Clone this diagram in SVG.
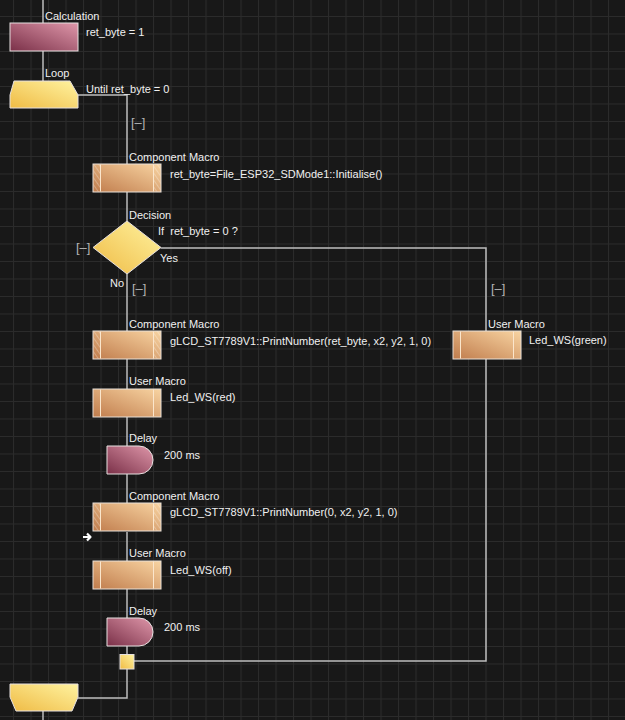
<svg xmlns="http://www.w3.org/2000/svg" width="625" height="720" viewBox="0 0 625 720">
<defs>
<pattern id="grid" width="17.5" height="17.5" patternUnits="userSpaceOnUse" x="13" y="16">
<path d="M0,0 H17.5 M0,0 V17.5" stroke="#2b2b2b" stroke-width="2" fill="none"/>
</pattern>
<linearGradient id="gPink" x1="0" y1="1" x2="1" y2="0">
<stop offset="0" stop-color="#7a3048"/>
<stop offset="1" stop-color="#df97aa"/>
</linearGradient>
<linearGradient id="gYel" x1="0" y1="1" x2="1" y2="0">
<stop offset="0" stop-color="#efbb45"/>
<stop offset="1" stop-color="#fff3a0"/>
</linearGradient>
<linearGradient id="gOr" x1="0" y1="1" x2="1" y2="0">
<stop offset="0" stop-color="#c07c4c"/>
<stop offset="1" stop-color="#f8d4a2"/>
</linearGradient>
<pattern id="hatch" width="4" height="4" patternUnits="userSpaceOnUse" patternTransform="rotate(-35)">
<rect width="4" height="4" fill="none"/>
<line x1="0" y1="0" x2="0" y2="4" stroke="#ffffff" stroke-opacity="0.45" stroke-width="1.2"/>
</pattern>
<g id="cm">
<rect x="0" y="0" width="68" height="28" fill="url(#gOr)" stroke="#e8e0d8" stroke-width="1"/>
<rect x="0.5" y="0.5" width="7" height="27" fill="url(#hatch)"/>
<rect x="60.5" y="0.5" width="7" height="27" fill="url(#hatch)"/>
<path d="M7.5,0.5 V27.5 M60.5,0.5 V27.5" stroke="#fbe6cc" stroke-width="1"/>
</g>
<g id="um">
<rect x="0" y="0" width="68" height="28" fill="url(#gOr)" stroke="#e8e0d8" stroke-width="1"/>
<path d="M7.5,0.5 V27.5 M60.5,0.5 V27.5" stroke="#fbe6cc" stroke-width="1"/>
</g>
</defs>
<style>
.t{font-family:"Liberation Sans",Arial,sans-serif;font-size:11px;fill:#f0f0f0;white-space:pre}
.b{font-family:"Liberation Sans",Arial,sans-serif;font-size:13px;fill:#b4b4b4}
.c{fill:none;stroke:#bdbdbd;stroke-width:1.5}
.n{stroke:#e6e0e0;stroke-width:1}
</style>
<rect width="625" height="720" fill="#181818"/>
<rect width="625" height="720" fill="url(#grid)"/>

<g id="connectors">
<path class="c" d="M43,0 V23"/>
<path class="c" d="M43,51 V81"/>
<path class="c" d="M78,95 H127 V164"/>
<path class="c" d="M127,192 V221"/>
<path class="c" d="M161,248 H486 V331"/>
<path class="c" d="M486,359 V661 H134"/>
<path class="c" d="M127,274 V331"/>
<path class="c" d="M127,359 V389"/>
<path class="c" d="M127,417 V446"/>
<path class="c" d="M127,474 V503"/>
<path class="c" d="M127,532 V561"/>
<path class="c" d="M127,588 V618"/>
<path class="c" d="M127,646 V654"/>
<path class="c" d="M127,669 V698 H78"/>
<path class="c" d="M43,711 V720"/>
<text class="b" x="131" y="127">[–]</text>
<text class="b" x="76" y="252">[–]</text>
<text class="b" x="132" y="293">[–]</text>
<text class="b" x="491" y="293">[–]</text>
<text class="t" x="160" y="262">Yes</text>
<text class="t" x="110" y="287">No</text>
</g>

<g id="calc">
<rect class="n" x="10" y="23" width="68" height="28" fill="url(#gPink)"/>
<text class="t" x="45" y="20">Calculation</text>
<text class="t" x="86" y="36">ret_byte = 1</text>
</g>

<g id="loop">
<polygon class="n" points="14,81 70,81 78,95 78,108 10,108 10,95" fill="url(#gYel)"/>
<text class="t" x="45" y="77">Loop</text>
<text class="t" x="86" y="93">Until ret_byte = 0</text>
</g>

<g id="cm1">
<use href="#cm" x="93" y="164"/>
<text class="t" x="129" y="161">Component Macro</text>
<text class="t" x="170" y="178">ret_byte=File_ESP32_SDMode1::Initialise()</text>
</g>

<g id="decision">
<polygon class="n" points="127,221 161,247.5 127,274 93,247.5" fill="url(#gYel)"/>
<text class="t" x="129" y="219">Decision</text>
<text class="t" x="158" y="235" xml:space="preserve">If  ret_byte = 0 ?</text>
</g>

<g id="cm2">
<use href="#cm" x="93" y="331"/>
<text class="t" x="129" y="328">Component Macro</text>
<text class="t" x="170" y="345">gLCD_ST7789V1::PrintNumber(ret_byte, x2, y2, 1, 0)</text>
</g>

<g id="umGreen">
<use href="#um" x="453" y="331"/>
<text class="t" x="488" y="328">User Macro</text>
<text class="t" x="529" y="344">Led_WS(green)</text>
</g>

<g id="umRed">
<use href="#um" x="93" y="389"/>
<text class="t" x="129" y="385">User Macro</text>
<text class="t" x="170" y="401">Led_WS(red)</text>
</g>

<g id="delay1">
<path class="n" d="M107,446 H139 A14,14 0 0 1 139,474 H107 Z" fill="url(#gPink)"/>
<text class="t" x="129" y="442">Delay</text>
<text class="t" x="164" y="459">200 ms</text>
</g>

<g id="cm3">
<use href="#cm" x="93" y="503"/>
<text class="t" x="129" y="500">Component Macro</text>
<text class="t" x="170" y="516">gLCD_ST7789V1::PrintNumber(0, x2, y2, 1, 0)</text>
<path d="M83,537 H90 M87,533.5 L90.5,537 L87,540.5" fill="none" stroke="#ffffff" stroke-width="2.2" stroke-linejoin="round"/>
</g>

<g id="umOff">
<use href="#um" x="93" y="561"/>
<text class="t" x="129" y="557">User Macro</text>
<text class="t" x="170" y="574">Led_WS(off)</text>
</g>

<g id="delay2">
<path class="n" d="M107,618 H139 A14,14 0 0 1 139,646 H107 Z" fill="url(#gPink)"/>
<text class="t" x="129" y="615">Delay</text>
<text class="t" x="164" y="631">200 ms</text>
</g>

<g id="join">
<rect class="n" x="120" y="654.5" width="14" height="14.5" fill="url(#gYel)"/>
</g>

<g id="loopEnd">
<polygon class="n" points="10,684 78,684 78,697 72,711 16,711 10,697" fill="url(#gYel)"/>
</g>
</svg>
